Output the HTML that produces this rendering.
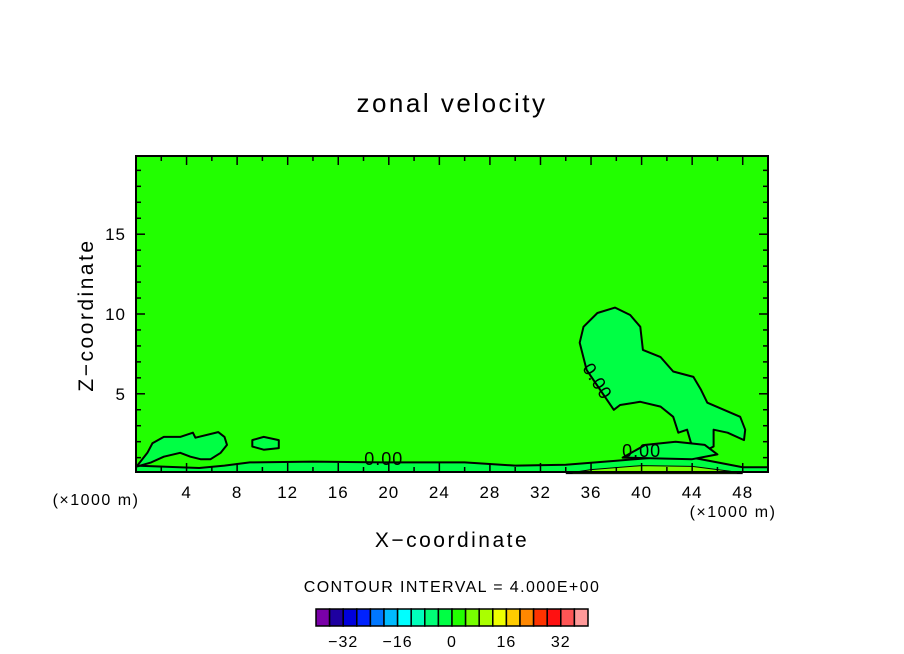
<!DOCTYPE html>
<html><head><meta charset="utf-8"><style>
html,body{margin:0;padding:0;background:#fff;}
svg{display:block;font-family:"Liberation Sans",sans-serif;}
</style></head><body>
<svg id="chart" width="904" height="654" viewBox="0 0 904 654" xmlns="http://www.w3.org/2000/svg">
<rect x="0" y="0" width="904" height="654" fill="#fff"/>
<text x="452" y="112" font-size="26" text-anchor="middle" letter-spacing="2.5">zonal velocity</text>
<g id="plot"></g>
<g id="axes"></g>
<text x="452" y="547" font-size="21" text-anchor="middle" letter-spacing="2.5">X−coordinate</text>
<text transform="translate(93,315) rotate(-90)" font-size="21" text-anchor="middle" letter-spacing="2.5">Z−coordinate</text>
<text x="96" y="505" font-size="16" text-anchor="middle" letter-spacing="1.5">(×1000 m)</text>
<text x="733" y="517" font-size="16" text-anchor="middle" letter-spacing="1.5">(×1000 m)</text>
<text x="452" y="592" font-size="16" text-anchor="middle" letter-spacing="1.4">CONTOUR INTERVAL = 4.000E+00</text>
<g id="cbar"></g>
</svg>
<script>
const xTicks=[4,8,12,16,20,24,28,32,36,40,44,48];
const yTicks=[5,10,15];
const cbLevels=[-40,-36,-32,-28,-24,-20,-16,-12,-8,-4,0,4,8,12,16,20,24,28,32,36,40];
const cbColors=["#7a00a8","#1e00a0","#0000dc","#0022ff","#0077ff","#00bbff","#00ffff","#00ffbb","#00ff77","#00ff44","#22ff00","#77ff00","#aaff00","#eeff00","#ffcc00","#ff8800","#ff3300","#ff1111","#ff5555","#ff9999"];
const cbLabels=[-32,-16,0,16,32];
// contour outlines (x in km*1000, z)
const blobUpper=[[35.65,6.5],[35.1,8.2],[35.4,9.2],[36.5,10.06],[37.9,10.4],[39.1,9.94],[39.9,9.2],[40.1,7.75],[41.5,7.3],[42.5,6.4],[44.1,6.06],[44.7,5.25],[45.2,4.44],[47.8,3.56],[48.2,2.75],[48.1,2.1],[46.8,2.56],[45.7,2.75],[45.7,1.7],[44.7,1.3],[43.9,1.94],[43.6,2.75],[42.9,2.56],[42.5,3.56],[41.5,4.2],[39.9,4.5],[38.3,4.3],[37.8,4.0]];
const blobLeft=[[0.1,0.5],[0.9,1.3],[1.3,1.9],[2.2,2.3],[3.5,2.3],[4.5,2.56],[4.7,2.25],[6.5,2.6],[7.0,2.3],[7.2,1.8],[6.7,1.3],[5.9,0.9],[5.1,0.9],[4.3,1.06],[3.5,1.3],[2.2,1.06],[1.2,0.7],[0.1,0.45]];
const blobSmall=[[9.2,2.1],[10.1,2.3],[11.3,2.1],[11.3,1.6],[10.1,1.5],[9.2,1.7]];
const bandTop=[[0,0.5],[5,0.35],[7,0.5],[9,0.7],[14,0.75],[20,0.7],[26,0.7],[30,0.5],[34,0.55],[38,0.8],[41,1.0],[44,1.0],[46,0.7],[48,0.4],[50,0.4]];
const bandPos=[[34,0],[36,0.25],[40,0.5],[44,0.45],[47,0.15],[48,0]];
const blobRight=[[38.5,1.0],[40.3,1.8],[42.7,2.0],[45,1.8],[46,1.2],[44,0.9]];
const labels=[[19.6,0.55,0],[40,1.05,0],[36.5,5.4,58]];
const X0=0,X1=50,Z0=0.1,Z1=19.9,PL=136,PR=768,PT=156,PB=472;
const sx=v=>PL+(v-X0)/(X1-X0)*(PR-PL);
const sy=v=>PB-(v-Z0)/(Z1-Z0)*(PB-PT);
const NS="http://www.w3.org/2000/svg";
function mk(parent,tag,attrs){const e=document.createElementNS(NS,tag);for(const k in attrs)e.setAttribute(k,attrs[k]);parent.appendChild(e);return e;}
function pathOf(pts,close){return pts.map((p,i)=>(i?"L":"M")+sx(p[0]).toFixed(1)+","+sy(p[1]).toFixed(1)).join(" ")+(close?"Z":"");}
const plot=document.getElementById("plot");
let e=mk(plot,"rect",{x:PL,y:PT,width:PR-PL,height:PB-PT,fill:"#22ff00"});


e=mk(plot,"path",{d:pathOf(bandTop.concat([[50,Z0],[0,Z0]]),true),fill:"#00ff44",stroke:"none"});


e=mk(plot,"path",{d:pathOf(bandTop,false),fill:"none",stroke:"#000",'stroke-width':2});


e=mk(plot,"path",{d:pathOf(bandPos,true),fill:"#77ff00",stroke:"#000",'stroke-width':1});


[[blobUpper,'contour-upper-blob'],[blobLeft,'contour-left-blob'],[blobSmall,'contour-small-blob'],[blobRight,'contour-right-blob']].forEach(b=>{
 const el=mk(plot,"path",{d:pathOf(b[0],true),fill:"#00ff44",stroke:"#000",'stroke-width':2,'stroke-linejoin':'round'});
 
 
});
labels.forEach(l=>{
 const t=mk(plot,"text",{x:sx(l[0]),y:sy(l[1]),'font-size':18,'letter-spacing':1,'text-anchor':'middle',transform:`rotate(${l[2]},${sx(l[0])},${sy(l[1])-6})`});
 t.textContent="0.00";
 
 
});
const ax=document.getElementById("axes");
e=mk(ax,"rect",{x:PL,y:PT,width:PR-PL,height:PB-PT,fill:"none",stroke:"#000",'stroke-width':2});


for(let v=2;v<50;v+=2){const maj=xTicks.includes(v);const L=maj?9:5;
 mk(ax,"line",{x1:sx(v),x2:sx(v),y1:PB,y2:PB-L,stroke:"#000",'stroke-width':1.5});
 mk(ax,"line",{x1:sx(v),x2:sx(v),y1:PT,y2:PT+L,stroke:"#000",'stroke-width':1.5});}
for(let v=1;v<20;v++){const maj=yTicks.includes(v);const L=maj?9:5;
 mk(ax,"line",{y1:sy(v),y2:sy(v),x1:PL,x2:PL+L,stroke:"#000",'stroke-width':1.5});
 mk(ax,"line",{y1:sy(v),y2:sy(v),x1:PR,x2:PR-L,stroke:"#000",'stroke-width':1.5});}
xTicks.forEach(v=>{const t=mk(ax,"text",{x:sx(v),y:498,'font-size':17,'letter-spacing':1,'text-anchor':'middle'});t.textContent=v;
 
 });
yTicks.forEach(v=>{const t=mk(ax,"text",{x:126,y:sy(v)+6,'font-size':17,'letter-spacing':1,'text-anchor':'end'});t.textContent=v;
 
 });
const cb=document.getElementById("cbar");
const CL=316,CR=588,CT=609,CB=626;
const cx=v=>CL+(v-cbLevels[0])/(cbLevels[cbLevels.length-1]-cbLevels[0])*(CR-CL);
cbColors.forEach((c,i)=>{const r=mk(cb,"rect",{x:cx(cbLevels[i]),y:CT,width:cx(cbLevels[i+1])-cx(cbLevels[i]),height:CB-CT,fill:c,stroke:"#000",'stroke-width':1.5});
 
 });
cbLabels.forEach(v=>{const t=mk(cb,"text",{x:cx(v),y:647,'font-size':16,'letter-spacing':1,'text-anchor':'middle'});t.textContent=v<0?"−"+(-v):v;
 
 });
</script>
</body></html>
